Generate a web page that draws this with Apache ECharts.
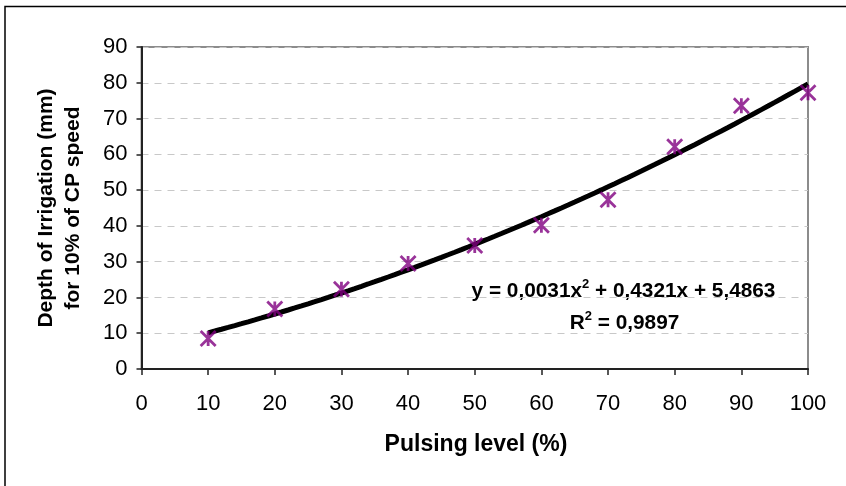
<!DOCTYPE html>
<html>
<head>
<meta charset="utf-8">
<script src="https://cdn.jsdelivr.net/npm/echarts@6/dist/echarts.min.js"></script>
<style>
  html, body { margin: 0; padding: 0; background: #fff; }
  #chart { width: 846px; height: 486px; }
</style>
</head>
<body>
<div id="chart"></div>
<script>
// Pulsing level (%) and measured depth of irrigation (mm)
const pulsingLevels = [10, 20, 30, 40, 50, 60, 70, 80, 90, 100];
const irrigationDepth = [8.5, 16.8, 22.3, 29.5, 34.5, 40.2, 47.3, 62.1, 73.6, 77.2];

// Polynomial trend line y = a*x^2 + b*x + c, as stated in the annotation
const trendCoefficients = [0.0031, 0.4321, 5.4863];
const trendRSquared = '0,9897';

const xTicks = { min: 0, max: 100, interval: 10 };
const yTicks = { min: 0, max: 90, interval: 10 };

const trendLine = [];
for (let x = pulsingLevels[0]; x <= pulsingLevels[pulsingLevels.length - 1]; x += 1) {
  const [a, b, c] = trendCoefficients;
  trendLine.push([x, a * x * x + b * x + c]);
}

const fontFamily = 'Arial, "Liberation Sans", sans-serif';
const chart = echarts.init(document.getElementById('chart'), null, { renderer: 'canvas' });

const eqRich = {
  t: { font: 'bold 20.8px ' + fontFamily, fill: '#000', verticalAlign: 'bottom', lineHeight: 24 },
  s: { font: 'bold 13px ' + fontFamily, fill: '#000', verticalAlign: 'top', lineHeight: 24 }
};

chart.setOption({
  animation: false,
  backgroundColor: '#ffffff',
  grid: {
    left: 141.5, right: 38, top: 47, bottom: 117,
    show: true, borderColor: '#8c8c8c', borderWidth: 2, backgroundColor: 'transparent'
  },
  xAxis: {
    type: 'value', min: xTicks.min, max: xTicks.max, interval: xTicks.interval,
    axisLine: { lineStyle: { color: '#222', width: 2 } },
    axisTick: { show: true, length: 6, lineStyle: { color: '#222', width: 1.5 } },
    axisLabel: { color: '#000', fontSize: 22, fontFamily, margin: 24 },
    splitLine: { show: false }
  },
  yAxis: {
    type: 'value', min: yTicks.min, max: yTicks.max, interval: yTicks.interval,
    axisLine: { show: true, lineStyle: { color: '#222', width: 2 } },
    axisTick: { show: true, length: 5, lineStyle: { color: '#222', width: 1.5 } },
    axisLabel: { color: '#000', fontSize: 22, fontFamily, margin: 14 },
    splitLine: { show: true, lineStyle: { color: '#c8c8c8', type: [7, 6], width: 1 } }
  },
  series: [
    {
      type: 'line',
      data: trendLine,
      showSymbol: false,
      smooth: false,
      lineStyle: { color: '#000', width: 5 },
      z: 3
    },
    {
      type: 'scatter',
      data: pulsingLevels.map((x, i) => [x, irrigationDepth[i]]),
      symbol: 'path://M0,0L10,10M10,0L0,10M5,0L5,10',
      symbolSize: [15, 15],
      itemStyle: { color: 'rgba(0,0,0,0)', borderColor: '#800080', borderWidth: 2.8 },
      z: 4
    }
  ],
  graphic: [
    // outer chart frame
    {
      type: 'rect', shape: { x: 5, y: 6.5, width: 1000, height: 1000 },
      style: { fill: 'transparent', stroke: '#000', lineWidth: 1.5 }, silent: true
    },
    {
      type: 'text', x: 59.5, y: 208, rotation: Math.PI / 2,
      style: {
        text: 'Depth of Irrigation (mm)\nfor 10% of CP speed',
        font: 'bold 21px ' + fontFamily, fill: '#000',
        align: 'center', verticalAlign: 'middle', lineHeight: 27
      }
    },
    {
      type: 'text', x: 476, y: 445,
      style: {
        text: 'Pulsing level (%)', font: 'bold 23px ' + fontFamily, fill: '#000',
        align: 'center', verticalAlign: 'middle'
      }
    },
    {
      type: 'text', x: 623.5, y: 290,
      style: {
        text: '{t|y = 0,0031x}{s|2}{t| + 0,4321x + 5,4863}',
        align: 'center', verticalAlign: 'middle', rich: eqRich
      }
    },
    {
      type: 'text', x: 624.5, y: 322,
      style: {
        text: '{t|R}{s|2}{t| = ' + trendRSquared + '}',
        align: 'center', verticalAlign: 'middle', rich: eqRich
      }
    }
  ]
});
</script>
</body>
</html>
